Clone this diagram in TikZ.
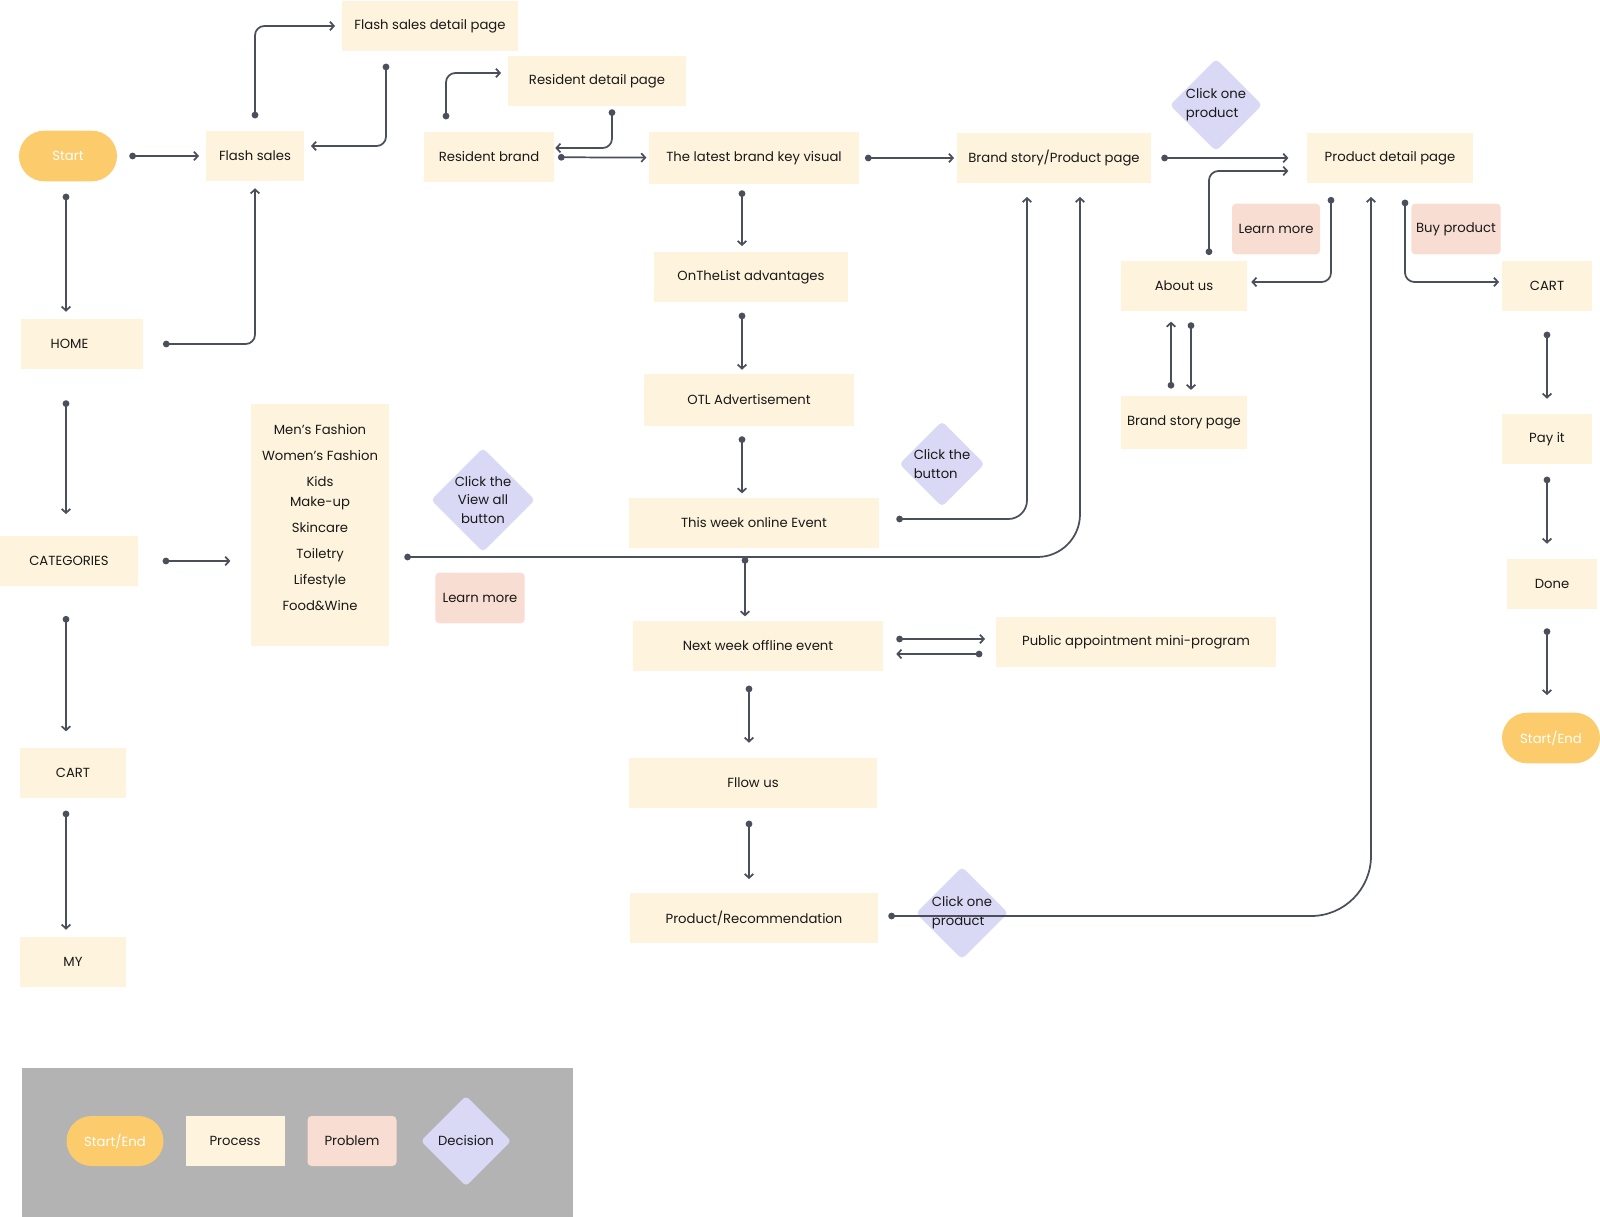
\documentclass[tikz,border=0pt]{standalone}
\usepackage{fontspec}
\setmainfont{Poppins}
\usepackage{xcolor}
\usepackage{tikz}
\usetikzlibrary{arrows.meta,shapes.geometric,shapes.misc,calc}
\definecolor{termc}{HTML}{FCCB6B}
\definecolor{procc}{HTML}{FEF3DC}
\definecolor{probc}{HTML}{F8DDD2}
\definecolor{decic}{HTML}{D9D8F5}
\definecolor{linec}{HTML}{4B4F5C}
\definecolor{legc}{HTML}{B3B3B3}

\begin{document}
\begin{tikzpicture}[x=0.75pt, y=-0.75pt,
  every node/.style={font=\fontsize{9.9}{14}\selectfont, text=black!90},
  proc/.style={fill=procc, inner sep=0pt, minimum height=38pt},
  prob/.style={fill=probc, rounded corners=3pt, inner sep=0pt,
               minimum height=38pt},
  term/.style={rounded rectangle, fill=termc, text=white, inner sep=0pt,
               minimum width=73.5pt, minimum height=38pt},
  deci/.style={diamond, fill=decic, rounded corners=3pt, inner sep=0pt,
               aspect=1, align=left},
  arr/.style={{Circle[length=5pt]}-{Straight Barb[length=3pt,width=6.5pt]},
              draw=linec, line width=1.3pt, rounded corners=7pt,
              shorten <=9pt, shorten >=5pt}]
\useasboundingbox (0,0) rectangle (1600,1217);
\coordinate (colL) at (66,0);
\coordinate (colM) at (742,0);
\coordinate (colN) at (749,0);
\coordinate (colR) at (1547,0);
\coordinate (jn) at (745,557);

\node[term] (start) at (68,156) {Start};
\node[proc, minimum width=73.5pt] (flash) at (255,156) {Flash sales};
\node[proc, minimum width=132pt] (flashdet) at (430,26) {Flash sales detail page};
\node[proc, minimum width=97pt] (resbrand) at (489,157) {Resident brand};
\node[proc, minimum width=133.5pt] (resdet) at (597,81) {Resident detail page};
\node[proc, minimum width=158pt, minimum height=39pt] (latest) at (754,158)
  {The latest brand key visual};
\node[proc, minimum width=145.5pt] (brandprod) at (1054,158) {Brand story/Product page};
\node[deci] (clickone) at (1216,105) {Click one\\product};
\node[proc, minimum width=124pt] (detail) at (1390,158) {Product detail page};
\node[prob, minimum width=66pt] (learna) at (1276,229) {Learn more};
\node[prob, minimum width=67pt] (buy) at (1456,229) {Buy product};
\node[proc, minimum width=94.5pt] (about) at (1184,286) {About us};
\node[proc, minimum width=67.5pt] (cartr) at (1547,286) {CART};
\node[proc, minimum width=94.5pt, minimum height=39.75pt] (brandstory) at (1184,422)
  {Brand story page};

\node[proc, text width=47pt, inner xsep=22pt, align=left] (home) at (82,344) {HOME};
\node[proc, minimum width=104pt] (cats) at (69,561) {CATEGORIES};
\node[proc, minimum width=79.5pt] (cartl) at (73,773) {CART};
\node[proc, minimum width=79.5pt] (my) at (73,962) {MY};
\node[proc, minimum width=104pt, minimum height=181pt, align=center,
      font=\fontsize{9.9}{15}\selectfont] (catlist) at (320,525)
  {Men’s Fashion\\[4.5pt] Women’s Fashion\\[4.5pt] Kids\\ Make-up\\[4.5pt]
   Skincare\\[4.5pt] Toiletry\\[4.5pt] Lifestyle\\[4.5pt] Food\&Wine\\[-3pt]\mbox{}};
\node[deci, align=center] (viewall) at (483,500) {Click the\\View all\\button};
\node[prob, minimum width=67pt] (learnb) at (480,598) {Learn more};

\node[proc, minimum width=145pt] (adv) at (751,277) {OnTheList advantages};
\node[proc, minimum width=157.5pt, minimum height=39pt] (otl) at (749,400)
  {OTL Advertisement};
\node[proc, minimum width=187pt] (online) at (754,523) {This week online Event};
\node[deci] (clickbtn) at (942,464) {Click the\\button};
\node[proc, minimum width=187pt] (offline) at (758,646) {Next week offline event};
\node[proc, minimum width=210pt] (public) at (1136,642)
  {Public appointment mini-program};
\node[proc, minimum width=186pt] (follow) at (753,783) {Fllow us};
\node[proc, minimum width=186pt] (recom) at (754,918) {Product/Recommendation};
\node[deci] (clickrec) at (962,913) {Click one\\product};

\node[proc, minimum width=67.5pt] (payit) at (1547,439) {Pay it};
\node[proc, minimum width=67.5pt] (done) at (1552,584) {Done};
\node[term] (endr) at (1551,738) {Start/End};

\fill[legc] (22,1068) rectangle (573,1217);
\node[term, minimum width=72.75pt, minimum height=37.5pt] (legterm) at (115,1141)
  {Start/End};
\node[proc, minimum width=74.25pt, minimum height=37.5pt] (legproc) at (235,1141)
  {Process};
\node[prob, minimum width=66.75pt, minimum height=37.5pt] (legprob) at (352,1141)
  {Problem};
\node[deci, minimum size=68pt] (legdeci) at (466,1141) {Decision};

\draw[arr] (start) -- (flash);
\draw[arr] (flash.north) |- (flashdet.west);
\draw[arr] ($(flashdet.south)+(-44,0)$) |- ($(flash.east)+(0,-10)$);
\draw[arr, shorten <=15pt] (home.east) -| (flash.south);
\draw[arr] (start.south -| colL) -- (home.north -| colL);
\draw[arr, shorten <=23pt, shorten >=16pt] (home.south -| colL) -- (cats.north -| colL);
\draw[arr, shorten <=22pt, shorten >=12pt] (cats.south -| colL) -- (cartl.north -| colL);
\draw[arr] (cartl.south -| colL) -- (my.north -| colL);
\draw[arr, shorten <=18pt, shorten >=15pt] (cats) -- (cats -| catlist.west);

\draw[arr] ($(resbrand.north)+(-43,0)$) |- ($(resdet.west)+(0,-8)$);
\draw[arr, shorten <=2pt, shorten >=1pt] ($(resdet.south)+(15,0)$)
  |- ($(resbrand.east)+(0,-9)$);
\draw[arr, shorten <=3pt, shorten >=1.5pt] (resbrand) -- (latest);
\draw[arr, shorten <=4pt, shorten >=2pt] (latest) -- (brandprod);
\draw[arr, shorten <=7.5pt, shorten >=14pt] (brandprod) -- (detail);

\draw[arr, shorten <=4.5pt, shorten >=4pt] (latest.south -| colM) -- (adv.north -| colM);
\draw[arr, shorten <=7.5pt, shorten >=3pt] (adv.south -| colM) -- (otl.north -| colM);
\draw[arr, shorten <=7.5pt, shorten >=3pt] (otl.south -| colM) -- (online.north -| colM);

\draw[arr, rounded corners=32pt, shorten <=11pt, shorten >=10pt] (catlist.east |- jn)
  -| ($(brandprod.south)+(26,0)$);
\draw[arr, shorten <=0pt, shorten >=3pt] (jn) -- (jn |- offline.north);
\draw[arr, rounded corners=14pt, shorten <=13pt, shorten >=10pt]
  ($(online.east)+(0,-4)$) -| ($(brandprod.south)+(-27,0)$);

\draw[arr, shorten <=10pt, shorten >=8pt] ($(offline.east)+(0,-7)$)
  -- ($(public.west)+(0,-3)$);
\draw[arr, shorten <=10pt, shorten >=10pt] ($(public.west)+(0,12)$)
  -- ($(offline.east)+(0,8)$);
\draw[arr, shorten <=10.5pt, shorten >=11pt] (offline.south -| colN) -- (follow.north -| colN);
\draw[arr, shorten <=9pt, shorten >=10pt] (follow.south -| colN) -- (recom.north -| colN);
\draw[arr, rounded corners=45pt, shorten <=7.5pt, shorten >=10pt]
  ($(recom.east)+(0,-2)$) -| ($(detail.south)+(-19,0)$);

\draw[arr, shorten <=4pt, shorten >=14pt] ($(about.north)+(25,0)$)
  |- ($(detail.west)+(0,13)$);
\draw[arr, shorten <=10pt, shorten >=3pt] ($(detail.south)+(-59,0)$)
  |- ($(about.east)+(0,-4)$);
\draw[arr, shorten <=12pt, shorten >=2pt] ($(detail.south)+(15,0)$)
  |- ($(cartr.west)+(0,-4)$);
\draw[arr, shorten <=5pt, shorten >=7.5pt] ($(brandstory.north)+(-13,0)$)
  -- ($(about.south)+(-13,0)$);
\draw[arr, shorten <=8pt, shorten >=4pt] ($(about.south)+(7,0)$)
  -- ($(brandstory.north)+(7,0)$);

\draw[arr, shorten <=15pt, shorten >=11pt] (cartr.south -| colR) -- (payit.north -| colR);
\draw[arr, shorten <=9pt, shorten >=11pt] (payit.south -| colR) -- (done.north -| colR);
\draw[arr, shorten <=14pt, shorten >=13pt] (done.south -| colR) -- (endr.north -| colR);
\end{tikzpicture}
\end{document}
